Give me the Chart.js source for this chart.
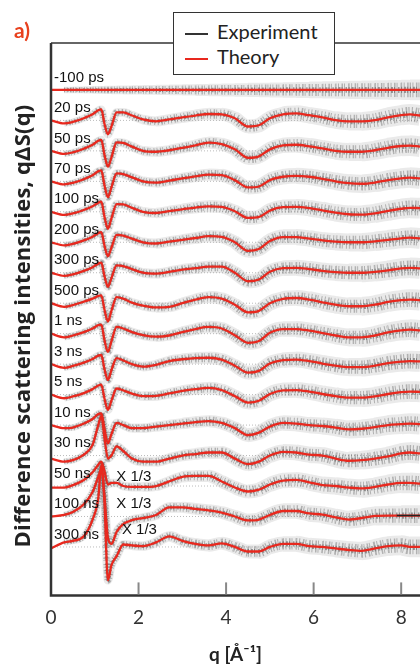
<!DOCTYPE html>
<html lang="en">
<head>
<meta charset="utf-8" />
<title>Difference scattering intensities</title>
<script src="https://cdn.jsdelivr.net/npm/chart.js"></script>
<style>
  body { margin: 0; background: #fff; }
  #wrap { position: relative; width: 420px; height: 666px; }
  #legend {
    position: absolute; left: 173px; top: 12px; width: 162px; height: 63px;
    box-sizing: border-box; background: #fff; border: 1.5px solid #333;
    padding: 6px 0 0 11px; font-family: "Lato", "Noto Sans", sans-serif;
    font-size: 20px; color: #222; line-height: 25px;
  }
  #legend .sw { display: inline-block; width: 23px; height: 0; vertical-align: middle; margin-right: 9px; }
</style>
</head>
<body>
<div id="wrap">
  <canvas id="scatChart"></canvas>
  <div id="legend">
    <div><span class="sw" style="border-top:2px solid #333"></span>Experiment</div>
    <div><span class="sw" style="border-top:2px solid #e8281e"></span>Theory</div>
  </div>
</div>
<script>
  // q grid (1/Å) the curves are sampled on
  const q = [0, 0.3, 0.5, 0.75, 0.95, 1.08, 1.15, 1.22, 1.3, 1.38, 1.5, 1.65, 1.85, 2.1, 2.4, 2.7,
             3.0, 3.3, 3.6, 3.9, 4.2, 4.5, 4.75, 5.0, 5.3, 5.6, 5.9, 6.2, 6.5, 6.8, 7.1, 7.4, 7.7,
             8.0, 8.2, 8.43];
  const xTicks = [0, 2, 4, 6, 8];

  const delays = ['-100 ps', '20 ps', '50 ps', '70 ps', '100 ps', '200 ps', '300 ps', '500 ps',
                  '1 ns', '3 ns', '5 ns', '10 ns', '30 ns', '50 ns', '100 ns', '300 ns'];
  // vertical shift of each trace
  const offsets = [0, -1, -2, -3, -4, -5, -6, -7, -8, -9, -10, -11, -12, -13, -14, -15];
  const reduced = ['50 ns', '100 ns', '300 ns'];   // low-q part shown x 1/3

  // theory qΔS(q) per delay, before shifting
  const thNeg100ps = [0,0,0,0,0,0,0,0,0,0,0,0,0,0,0,0,0,0,0,0,0,0,0,0,0,0,0,0,0,0,0,0,0,0,0,0];
  const th20ps  = [0, -0.1, -0.05, 0.07, 0.2, 0.33, 0.36, -0.1, -0.46, -0.2, 0.26, 0.26, 0.16, 0.03, -0.03, 0.03, 0.1, 0.16, 0.21, 0.2, 0.07, -0.2, -0.16, 0.07, 0.2, 0.23, 0.17, 0.1, 0.01, -0.03, -0.03, 0.01, 0.1, 0.17, 0.2, 0.16];
  const th50ps  = [0, -0.1, -0.05, 0.07, 0.2, 0.33, 0.36, -0.12, -0.52, -0.22, 0.28, 0.26, 0.14, 0.0, -0.03, 0.02, 0.1, 0.18, 0.27, 0.22, 0.05, -0.23, -0.18, 0.05, 0.18, 0.2, 0.15, 0.08, 0.0, -0.03, -0.03, 0.02, 0.1, 0.16, 0.17, 0.14];
  const th70ps  = [0, -0.1, -0.05, 0.07, 0.2, 0.33, 0.36, -0.12, -0.52, -0.2, 0.26, 0.24, 0.13, 0.0, -0.04, 0.02, 0.1, 0.16, 0.22, 0.2, 0.04, -0.2, -0.17, 0.04, 0.15, 0.18, 0.15, 0.08, 0.0, -0.06, -0.08, -0.04, 0.04, 0.1, 0.12, 0.1];
  const th100ps = [0, -0.1, -0.05, 0.06, 0.18, 0.3, 0.33, -0.15, -0.56, -0.22, 0.25, 0.24, 0.13, 0.0, -0.04, 0.02, 0.08, 0.14, 0.18, 0.16, 0.02, -0.2, -0.17, 0.04, 0.15, 0.16, 0.12, 0.05, -0.03, -0.08, -0.09, -0.05, 0.03, 0.1, 0.13, 0.12];
  const th200ps = [0, -0.1, -0.05, 0.06, 0.18, 0.3, 0.33, -0.1, -0.46, -0.18, 0.24, 0.22, 0.12, 0.0, -0.04, 0.02, 0.08, 0.14, 0.2, 0.18, 0.0, -0.28, -0.22, 0.04, 0.17, 0.17, 0.12, 0.06, 0.02, 0.0, 0.0, 0.03, 0.08, 0.13, 0.15, 0.13];
  const th300ps = [0, -0.1, -0.05, 0.06, 0.18, 0.3, 0.33, -0.1, -0.46, -0.18, 0.24, 0.22, 0.12, 0.0, -0.03, 0.03, 0.1, 0.15, 0.2, 0.2, 0.0, -0.28, -0.22, 0.03, 0.15, 0.16, 0.12, 0.06, 0.02, 0.0, 0.0, 0.03, 0.08, 0.14, 0.16, 0.14];
  const th500ps = [0, -0.12, -0.06, 0.05, 0.15, 0.24, 0.26, -0.2, -0.6, -0.25, 0.2, 0.15, 0.02, -0.08, -0.14, -0.12, 0.0, 0.12, 0.2, 0.15, -0.05, -0.3, -0.25, 0.0, 0.14, 0.17, 0.12, 0.03, -0.05, -0.1, -0.1, -0.05, 0.04, 0.1, 0.12, 0.1];
  const th1ns   = [0, -0.12, -0.06, 0.05, 0.17, 0.28, 0.3, -0.2, -0.6, -0.25, 0.22, 0.17, 0.05, -0.05, -0.1, -0.06, 0.05, 0.15, 0.22, 0.17, -0.05, -0.3, -0.24, 0.03, 0.15, 0.15, 0.1, 0.02, -0.06, -0.12, -0.12, -0.06, 0.04, 0.11, 0.13, 0.11];
  const th3ns   = [0, -0.12, -0.06, 0.05, 0.17, 0.28, 0.3, -0.15, -0.52, -0.2, 0.2, 0.12, 0.0, -0.08, -0.02, 0.1, 0.16, 0.2, 0.21, 0.15, -0.05, -0.28, -0.22, 0.02, 0.13, 0.15, 0.1, 0.02, -0.05, -0.1, -0.1, -0.05, 0.03, 0.08, 0.1, 0.09];
  const th5ns   = [0, -0.12, -0.06, 0.05, 0.18, 0.3, 0.33, -0.12, -0.5, -0.2, 0.2, 0.14, 0.03, -0.05, -0.04, 0.04, 0.12, 0.18, 0.22, 0.15, -0.05, -0.26, -0.2, 0.02, 0.14, 0.15, 0.1, 0.02, -0.05, -0.1, -0.1, -0.06, 0.02, 0.08, 0.1, 0.09];
  const th10ns  = [0, -0.1, -0.08, 0.05, 0.2, 0.36, 0.38, -0.1, -0.6, -0.3, 0.07, 0.0, -0.1, -0.1, -0.05, 0.0, 0.05, 0.1, 0.13, 0.07, -0.1, -0.33, -0.25, -0.05, 0.07, 0.05, 0.0, -0.03, -0.08, -0.14, -0.12, -0.07, 0.0, 0.03, 0.05, 0.03];
  const th30ns  = [-0.1, -0.2, -0.15, 0.03, 0.35, 1.0, 1.3, 0.6, -0.1, 0.0, 0.3, 0.15, -0.1, -0.2, -0.2, -0.1, 0.0, 0.05, 0.1, 0.1, -0.1, -0.28, -0.2, 0.0, 0.12, 0.1, 0.03, 0.0, -0.1, -0.17, -0.15, -0.1, -0.03, 0.07, 0.1, 0.07];
  const th50ns  = [-0.05, -0.05, 0.03, 0.2, 0.45, 0.7, 0.8, 0.5, 0.05, 0.1, 0.1, 0.0, -0.03, -0.03, 0.0, 0.15, 0.3, 0.33, 0.33, 0.15, -0.05, -0.18, -0.12, 0.05, 0.18, 0.2, 0.12, 0.03, 0.0, -0.05, -0.08, -0.03, 0.05, 0.1, 0.1, 0.08];
  const th100ns = [0, 0.05, 0.15, 0.4, 0.8, 1.3, 1.55, 0.7, -0.7, -0.9, -0.5, -0.25, -0.12, -0.05, 0.05, 0.3, 0.3, 0.25, 0.2, 0.13, 0.0, -0.13, -0.1, 0.05, 0.18, 0.18, 0.1, 0.06, -0.03, -0.1, -0.05, 0.02, 0.03, 0.03, 0.03, 0.03];
  const th300ns = [-0.05, 0.15, 0.2, 0.35, 0.9, 1.6, 2.7, 1.5, -1.1, -0.6, -0.3, 0.08, 0.05, 0.03, 0.15, 0.35, 0.2, 0.1, 0.05, 0.12, 0.0, -0.15, -0.15, 0.0, 0.1, 0.1, 0.03, 0.0, -0.05, -0.1, -0.13, -0.05, 0.03, 0.05, 0.0, 0.0];

  const theory = [thNeg100ps, th20ps, th50ps, th70ps, th100ps, th200ps, th300ps, th500ps,
                  th1ns, th3ns, th5ns, th10ns, th30ns, th50ns, th100ns, th300ns];

  const RED = '#e8281e';
  const shifted = (vals, off, from) =>
    vals.map((v, i) => ({ x: q[i], y: v + off })).slice(from || 0);

  // grey band layers standing in for the measured scatter (width grows with q)
  const bandLayers = [
    { color: 'rgba(150,150,150,0.2)', dash: [], w0: 6, w1: 1.8 },
    { color: 'rgba(75,75,75,0.4)', dash: [1, 1.5, 1, 2.5, 1.5, 1, 1, 3], w0: 5, w1: 1.2 },
    { color: 'rgba(45,45,45,0.5)', dash: [1, 2, 2, 1, 1, 3, 1.5, 1.5], w0: 3, w1: 0.4 }
  ];

  const datasets = [];
  theory.forEach((vals, i) => {
    datasets.push({
      label: 'Theory ' + delays[i], data: shifted(vals, offsets[i]),
      borderColor: RED, borderWidth: 2.3, pointRadius: 0,
      cubicInterpolationMode: 'monotone', order: 1
    });
  });
  theory.forEach((vals, i) => {
    bandLayers.forEach((b, k) => {
      datasets.push({
        label: 'Experiment ' + delays[i] + ' ' + k, data: shifted(vals, offsets[i], 1),
        borderColor: b.color, borderDash: b.dash, borderDashOffset: i % 3, pointRadius: 0,
        cubicInterpolationMode: 'monotone', order: 2,
        segment: { borderWidth: c => b.w0 + b.w1 * c.p0.parsed.x }
      });
    });
  });
  // dotted zero line for each trace
  offsets.forEach((off, i) => {
    datasets.push({
      label: 'zero ' + delays[i], data: [{ x: q[0], y: off }, { x: q[q.length - 1], y: off }],
      borderColor: '#bbb', borderWidth: 1, borderDash: [1, 2], pointRadius: 0, order: 3
    });
  });
  // short black mark at the end of the 100 ns trace
  datasets.push({
    label: 'mark', data: [{ x: 7.9, y: offsets[14] + 0.03 }, { x: q[q.length - 1], y: offsets[14] + 0.03 }],
    borderColor: '#222', borderWidth: 1.5, pointRadius: 0, order: 0
  });

  const decor = {
    id: 'decor',
    afterDatasetsDraw(chart) {
      const { ctx, chartArea: a, scales: { x, y } } = chart;
      ctx.save();
      ctx.fillStyle = '#111';
      ctx.font = '15px "Liberation Sans", Arial, sans-serif';
      ctx.textBaseline = 'bottom';
      delays.forEach((d, i) => {
        ctx.fillText(d, a.left + 3, y.getPixelForValue(offsets[i]) - 5);
      });
      ctx.textBaseline = 'middle';
      reduced.forEach((d, k) => {
        const i = delays.indexOf(d);
        const qx = k === 2 ? 1.62 : 1.49;
        const dy = [0.3, 0.4, 0.56][k];
        ctx.fillText('X 1/3', x.getPixelForValue(qx), y.getPixelForValue(offsets[i] + dy));
      });

      // frame
      ctx.strokeStyle = '#333';
      ctx.lineWidth = 2.5;
      ctx.beginPath();
      ctx.moveTo(a.left, a.top);
      ctx.lineTo(a.left, a.bottom);
      ctx.lineTo(a.right, a.bottom);
      ctx.stroke();
      ctx.lineWidth = 1.5;
      ctx.beginPath();
      ctx.moveTo(a.left, a.top);
      ctx.lineTo(a.right, a.top);
      ctx.stroke();

      // inward ticks
      ctx.strokeStyle = '#888';
      ctx.lineWidth = 2;
      xTicks.slice(1).forEach(v => {
        const px = x.getPixelForValue(v);
        ctx.beginPath();
        ctx.moveTo(px, a.bottom - 1);
        ctx.lineTo(px, a.bottom - 13);
        ctx.stroke();
      });

      // y title
      ctx.fillStyle = '#222';
      ctx.font = 'bold 22px "Open Sans", sans-serif';
      ctx.letterSpacing = '0.2px';
      ctx.textAlign = 'center';
      ctx.translate(24, 326);
      ctx.rotate(-Math.PI / 2);
      ctx.fillText('Difference scattering intensities, q\u0394S(q)', 0, 0);
      ctx.restore();

      ctx.save();
      ctx.fillStyle = '#e8411e';
      ctx.font = 'bold 21px "Lato", sans-serif';
      ctx.textBaseline = 'middle';
      ctx.fillText('a)', 14, 31);
      ctx.restore();
    }
  };

  new Chart(document.getElementById('scatChart'), {
    type: 'line',
    data: { datasets },
    options: {
      responsive: true,
      maintainAspectRatio: false,
      animation: false,
      events: [],
      layout: { padding: { left: 51, right: 0, top: 43, bottom: 0 } },
      plugins: { legend: { display: false }, tooltip: { enabled: false } },
      scales: {
        x: {
          type: 'linear', min: 0, max: 8.43,
          afterBuildTicks: s => { s.ticks = xTicks.map(v => ({ value: v })); },
          grid: { display: false, drawTicks: false },
          border: { display: false },
          ticks: { color: '#333', padding: 11, font: { family: 'Lato', size: 19 } },
          title: {
            display: true, text: 'q [Å\u207B\u00B9]', color: '#222',
            font: { family: 'Lato', size: 19, weight: 'bold' },
            padding: { top: 3, bottom: 0 }
          }
        },
        y: { type: 'linear', min: -16.59, max: 1.54, display: false }
      }
    },
    plugins: [decor]
  });
</script>
</body>
</html>
